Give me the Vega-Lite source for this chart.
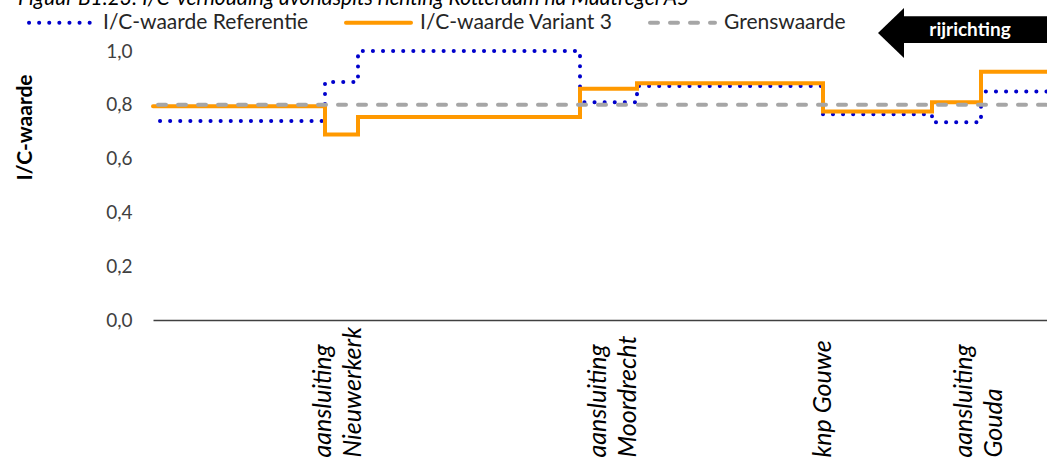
{
  "$schema": "https://vega.github.io/schema/vega-lite/v6.json",
  "width": 894,
  "height": 320,
  "autosize": "none",
  "padding": {"left": 153, "top": 0, "right": 0, "bottom": 144},
  "background": "white",
  "config": {"view": {"stroke": null}, "font": "Lato"},
  "layer": [
    {
      "data": {"values": [
        {"x": 0.7, "v": 0.74, "s": "I/C-waarde Referentie"},
        {"x": 17.2, "v": 0.885, "s": "I/C-waarde Referentie"},
        {"x": 20.5, "v": 1.0, "s": "I/C-waarde Referentie"},
        {"x": 42.7, "v": 0.81, "s": "I/C-waarde Referentie"},
        {"x": 48.4, "v": 0.87, "s": "I/C-waarde Referentie"},
        {"x": 67.0, "v": 0.765, "s": "I/C-waarde Referentie"},
        {"x": 77.9, "v": 0.735, "s": "I/C-waarde Referentie"},
        {"x": 82.8, "v": 0.85, "s": "I/C-waarde Referentie"},
        {"x": 89.4, "v": 0.85, "s": "I/C-waarde Referentie"},
        {"x": 0.0, "v": 0.795, "s": "I/C-waarde Variant 3"},
        {"x": 17.2, "v": 0.69, "s": "I/C-waarde Variant 3"},
        {"x": 20.5, "v": 0.755, "s": "I/C-waarde Variant 3"},
        {"x": 42.7, "v": 0.86, "s": "I/C-waarde Variant 3"},
        {"x": 48.4, "v": 0.88, "s": "I/C-waarde Variant 3"},
        {"x": 67.0, "v": 0.775, "s": "I/C-waarde Variant 3"},
        {"x": 77.9, "v": 0.81, "s": "I/C-waarde Variant 3"},
        {"x": 82.8, "v": 0.923, "s": "I/C-waarde Variant 3"},
        {"x": 89.4, "v": 0.923, "s": "I/C-waarde Variant 3"},
        {"x": 0.5, "v": 0.8, "s": "Grenswaarde"},
        {"x": 89.4, "v": 0.8, "s": "Grenswaarde"}
      ]},
      "mark": {"type": "line", "interpolate": "step-after", "strokeWidth": 4, "strokeCap": "round"},
      "encoding": {
        "x": {
          "field": "x", "type": "quantitative",
          "scale": {"domain": [0, 89.4], "nice": false, "zero": false},
          "axis": {
            "values": [16.9, 44.4, 66.9, 81.0],
            "labelExpr": "datum.value < 30 ? ['aansluiting', 'Nieuwerkerk'] : datum.value < 55 ? ['aansluiting', 'Moordrecht'] : datum.value < 75 ? 'knp Gouwe' : ['aansluiting', 'Gouda']",
            "labelAngle": -90,
            "labelAlign": "left",
            "labelBaseline": "middle",
            "labelPadding": 137,
            "labelFontStyle": "italic",
            "labelFontSize": 25,
            "labelLineHeight": 30,
            "labelColor": "black",
            "labelOverlap": false,
            "labelBound": false,
            "labelFlush": false,
            "labelLimit": 300,
            "ticks": false,
            "grid": false,
            "domainColor": "#404040",
            "domainWidth": 1.5,
            "title": null
          }
        },
        "y": {
          "field": "v", "type": "quantitative",
          "scale": {"domain": [0, 1.19], "nice": false},
          "axis": {
            "values": [0, 0.2, 0.4, 0.6, 0.8, 1.0],
            "labelExpr": "replace(format(datum.value, '.1f'), '.', ',')",
            "ticks": false,
            "domain": false,
            "grid": false,
            "labelPadding": 21,
            "labelFontSize": 19,
            "labelColor": "#404040",
            "title": "I/C-waarde",
            "titleFontSize": 21,
            "titleFontWeight": "bold",
            "titleColor": "black",
            "titleAngle": -90,
            "titleAlign": "center",
            "titleBaseline": "middle",
            "titleX": -128,
            "titleY": 127
          }
        },
        "color": {
          "field": "s", "type": "nominal",
          "scale": {"domain": ["I/C-waarde Referentie", "I/C-waarde Variant 3", "Grenswaarde"], "range": ["#0000CC", "#FF9900", "#A6A6A6"]},
          "legend": {
            "title": null, "orient": "none", "direction": "horizontal",
            "legendX": -126, "legendY": -12,
            "symbolType": "stroke", "symbolSize": 4225, "symbolStrokeWidth": 4,
            "labelFontSize": 21, "labelColor": "#262626", "labelOffset": 7, "labelLimit": 400,
            "columnPadding": 29,
            "encode": {"symbols": {"update": {"strokeCap": {"value": "round"}}}}
          }
        },
        "strokeDash": {
          "field": "s", "type": "nominal",
          "scale": {"domain": ["I/C-waarde Referentie", "I/C-waarde Variant 3", "Grenswaarde"], "range": [[0.1, 10], [1, 0], [8, 12]]},
          "legend": {
            "title": null, "orient": "none", "direction": "horizontal",
            "legendX": -126, "legendY": -12,
            "symbolType": "stroke", "symbolSize": 4225, "symbolStrokeWidth": 4,
            "labelFontSize": 21, "labelColor": "#262626", "labelOffset": 7, "labelLimit": 400,
            "columnPadding": 29,
            "encode": {"symbols": {"update": {"strokeCap": {"value": "round"}}}}
          }
        }
      }
    },
    {
      "data": {"values": [{"x": 75.0, "x2": 89.4, "y": 1.03, "y2": 1.13}]},
      "mark": {"type": "rect", "color": "black"},
      "encoding": {
        "x": {"field": "x", "type": "quantitative"},
        "x2": {"field": "x2"},
        "y": {"field": "y", "type": "quantitative"},
        "y2": {"field": "y2"}
      }
    },
    {
      "data": {"values": [{"x": 75.1, "y": 1.067}]},
      "mark": {"type": "point", "shape": "M0,-1L-1.04,0L0,1Z", "size": 2500, "filled": true, "color": "black", "opacity": 1},
      "encoding": {
        "x": {"field": "x", "type": "quantitative"},
        "y": {"field": "y", "type": "quantitative"}
      }
    },
    {
      "data": {"values": [{"x": 81.7, "y": 1.078, "t": "rijrichting"}]},
      "mark": {"type": "text", "color": "white", "fontWeight": "bold", "fontSize": 19, "align": "center", "baseline": "middle"},
      "encoding": {
        "x": {"field": "x", "type": "quantitative"},
        "y": {"field": "y", "type": "quantitative"},
        "text": {"field": "t"}
      }
    },
    {
      "data": {"values": [{"x": -13.5, "y": 1.171, "t": "Figuur B1.23: I/C-verhouding avondspits richting Rotterdam na Maatregel A5"}]},
      "mark": {"type": "text", "color": "black", "fontStyle": "italic", "fontSize": 21, "align": "left", "baseline": "alphabetic"},
      "encoding": {
        "x": {"field": "x", "type": "quantitative"},
        "y": {"field": "y", "type": "quantitative"},
        "text": {"field": "t"}
      }
    }
  ]
}
